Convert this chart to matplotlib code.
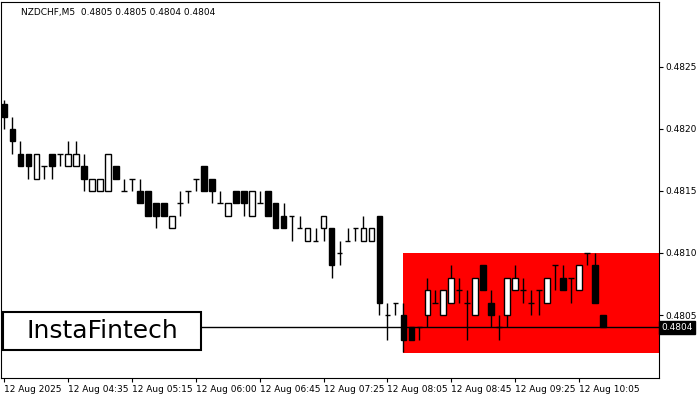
import matplotlib.pyplot as plt
from matplotlib.patches import Rectangle

# OHLC свечи NZDCHF M5 (цены)
opens = [.4822, .4820, .4818, .4818, .4816, .4817, .4818, .4818, .4817, .4817,
         .4817, .4815, .4815, .4815, .4817, .4815, .4816, .4815, .4815, .4814,
         .4814, .4812, .4814, .4815, .4816, .4817, .4816, .4814, .4813, .4815,
         .4815, .4813, .4814, .4815, .4814, .4813, .4813, .4812, .4811, .4811,
         .4812, .4812, .4810, .4811, .4812, .4811, .4811, .4813, .4805, .4806,
         .4805, .4804, .4804, .4805, .4806, .4805, .4806, .4807, .4806, .4805,
         .4809, .4806, .4804, .4805, .4807, .4807, .4806, .4807, .4806, .4809,
         .4808, .4808, .4807, .4810, .4809, .4805]
highs = [.48223, .4821, .4819, .4818, .4818, .4817, .4818, .4818, .4819, .4819,
         .4818, .4816, .4816, .4818, .4817, .4816, .4816, .4816, .4815, .4814,
         .4814, .4813, .4815, .4815, .4816, .4817, .4816, .4815, .4814, .4815,
         .4815, .4815, .4815, .4815, .4814, .4814, .4813, .4813, .4812, .4812,
         .4813, .4812, .4811, .4812, .4812, .4813, .4812, .4813, .4806, .4806,
         .4806, .4804, .4804, .4808, .4807, .4807, .4809, .4808, .4807, .4808,
         .4809, .4807, .4805, .4808, .4809, .4808, .4807, .4807, .4808, .4809,
         .4809, .4808, .4809, .4810, .4810, .4805]
lows = [.4820, .4818, .4817, .4816, .4816, .4816, .4816, .4817, .4817, .4817,
        .4815, .4815, .4815, .4815, .4816, .4815, .4815, .4814, .4813, .4812,
        .4813, .4812, .4813, .4814, .4815, .4815, .4814, .4814, .4813, .4814,
        .4813, .4813, .4814, .4813, .4812, .4812, .4811, .4812, .4811, .4811,
        .4811, .4808, .4809, .4811, .4811, .4811, .4811, .4805, .4803, .4805,
        .4802, .4803, .4803, .4804, .4806, .4805, .4806, .4806, .4803, .4805,
        .4807, .4804, .4803, .4804, .4807, .4806, .4805, .4805, .4806, .4807,
        .4807, .4806, .4807, .4809, .4806, .4804]
closes = [.4821, .4819, .4817, .4817, .4818, .4817, .4817, .4818, .4818, .4818,
          .4816, .4816, .4816, .4818, .4816, .4815, .4816, .4814, .4813, .4813,
          .4813, .4813, .4814, .4815, .4816, .4815, .4815, .4814, .4814, .4814,
          .4814, .4815, .4814, .4813, .4812, .4812, .4813, .4812, .4812, .4811,
          .4813, .4809, .4810, .4811, .4812, .4812, .4812, .4806, .4805, .4806,
          .4803, .4803, .4804, .4807, .4806, .4807, .4808, .4807, .4806, .4808,
          .4807, .4805, .4804, .4808, .4808, .4807, .4806, .4807, .4808, .4809,
          .4807, .4808, .4809, .4810, .4806, .4804]

tick_idx = [0, 8, 16, 24, 32, 40, 48, 56, 64, 72]
tick_labels = ['12 Aug 2025', '12 Aug 04:35', '12 Aug 05:15', '12 Aug 06:00',
               '12 Aug 06:45', '12 Aug 07:25', '12 Aug 08:05', '12 Aug 08:45',
               '12 Aug 09:25', '12 Aug 10:05']
price_ticks = [0.4805, 0.4810, 0.4815, 0.4820, 0.4825]
last_price = 0.4804
zone_start, zone_top, zone_bottom = 50, 0.4810, 0.48019

fig = plt.figure(figsize=(7, 4), dpi=100)
ax = fig.add_axes([0.002, 0.055, 0.939, 0.94])
ax.set_xlim(-0.375, 82)
ax.set_ylim(0.479992, 0.483024)

# красная зона
ax.add_patch(Rectangle((zone_start - 0.05, zone_bottom), 82 - zone_start + 0.05,
                       zone_top - zone_bottom, color='#ff0000', lw=0, zorder=1))
ax.axhline(last_price, color='black', lw=1, zorder=2)

w = 0.7
for i, (o, h, l, c) in enumerate(zip(opens, highs, lows, closes)):
    ax.vlines(i, l, h, color='black', lw=1, zorder=3)
    if o == c:
        ax.hlines(o, i - w / 2, i + w / 2, color='black', lw=1, zorder=4)
    else:
        fc = 'white' if c > o else 'black'
        ax.add_patch(Rectangle((i - w / 2, min(o, c)), w, abs(c - o),
                               facecolor=fc, edgecolor='black', lw=1, zorder=4))

ax.yaxis.tick_right()
ax.set_yticks(price_ticks)
ax.set_yticklabels([f'{p:.4f}' for p in price_ticks])
ax.set_xticks(tick_idx)
ax.set_xticklabels(tick_labels, ha='left')
ax.tick_params(labelsize=6.5, length=3, pad=2)
ax.text(1.004, last_price, f'{last_price:.4f}', transform=ax.get_yaxis_transform(),
        color='white', fontsize=6.5, va='center', ha='left',
        bbox=dict(facecolor='black', edgecolor='black', pad=1.5))

ax.text(0.03, 0.985, 'NZDCHF,M5  0.4805 0.4805 0.4804 0.4804', transform=ax.transAxes,
        fontsize=6.5, va='top', ha='left')

# логотип
fig.patches.append(Rectangle((3 / 700, 50 / 400), 198 / 700, 38 / 400, transform=fig.transFigure,
                             facecolor='white', edgecolor='black', lw=1.5, zorder=10))
fig.text(102 / 700, 69 / 400, 'InstaFintech', fontsize=18, fontweight='medium',
         ha='center', va='center', zorder=11)

fig.savefig('out.png', dpi=100)
